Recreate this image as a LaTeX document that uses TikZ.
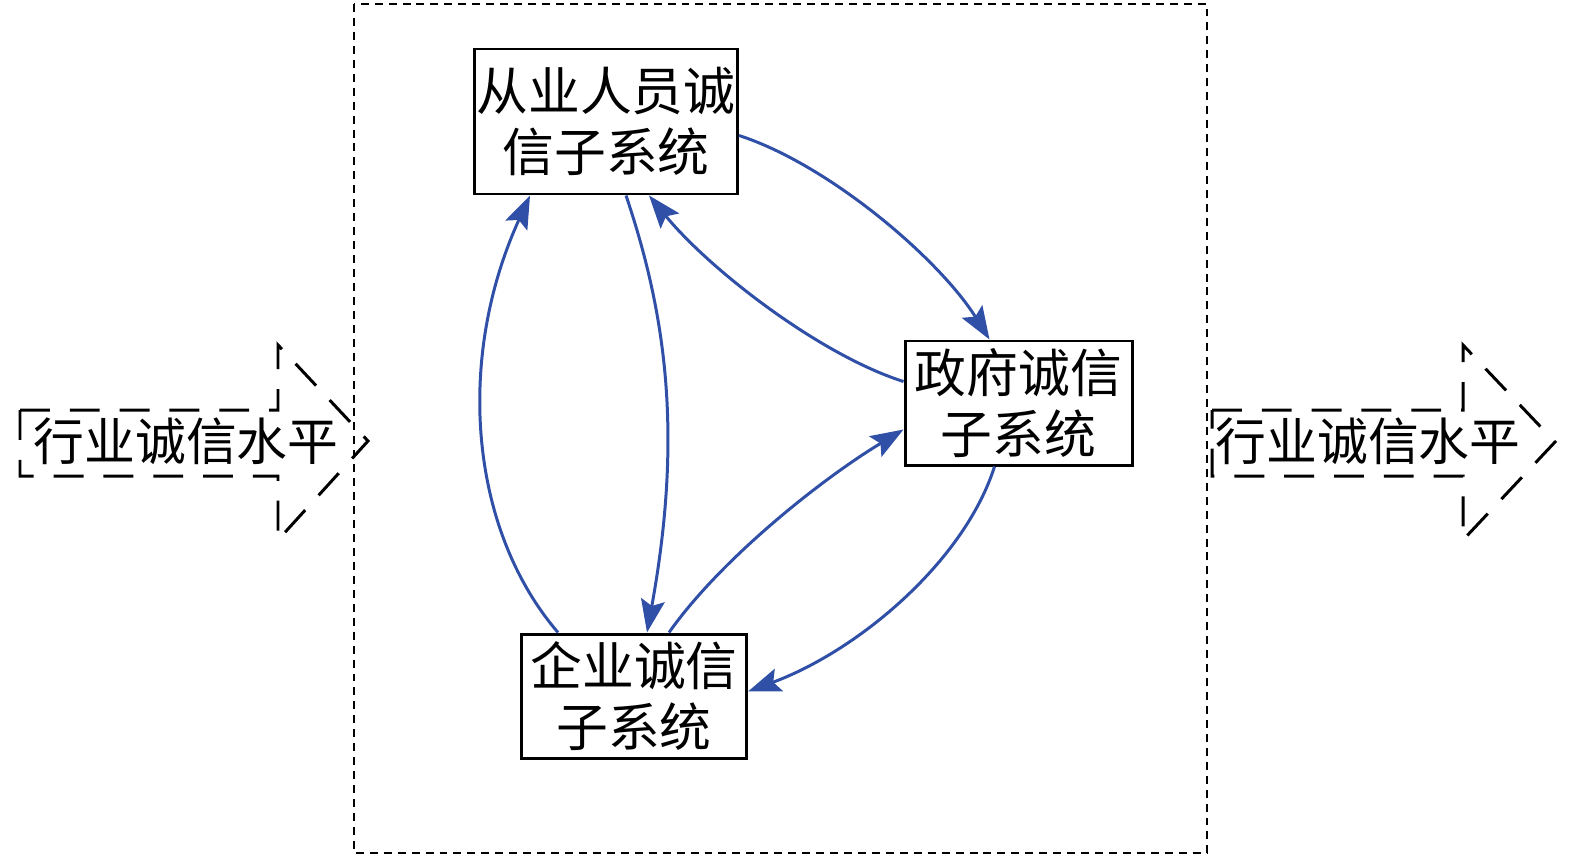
\documentclass[tikz,border=0pt]{standalone}
\usepackage{fontspec}
\newfontfamily\cjk{Noto Sans CJK SC}
\usetikzlibrary{arrows.meta,calc}
\definecolor{linkblue}{RGB}{48,80,168}
\begin{document}
\begin{tikzpicture}[x=1bp,y=-1bp,
  sysbox/.style={draw=black,line width=3pt,inner sep=0pt,align=center,
    font=\cjk\fontsize{52}{61}\selectfont},
  link/.style={draw=linkblue,line width=3pt,-{Stealth[length=33pt,width=24pt,inset=6pt]}},
  bigarrow/.style={draw=black,line width=3pt,dash pattern=on 30pt off 20pt},
  lvl/.style={font=\cjk\fontsize{51}{58}\selectfont,inner sep=0pt}]
\useasboundingbox (0,0) rectangle (1575,862);
% outer dashed frame
\draw[line width=2pt,dash pattern=on 8pt off 6pt] (354,4) rectangle (1207,853);
% subsystem boxes
\node[sysbox,minimum width=263bp,minimum height=145bp] (b1) at (606,121.5) {从业人员诚\\信子系统};
\node[sysbox,minimum width=227bp,minimum height=124bp] (b2) at (1018.5,403) {政府诚信\\子系统};
\node[sysbox,minimum width=225bp,minimum height=124bp] (b3) at (634,696) {企业诚信\\子系统};
% big arrows
\draw[bigarrow] (20,410) -- (278,410) -- (278,345) -- (368,441) -- (278,540) -- (278,476) -- (20,476) -- cycle;
\node[lvl] (lin) at (186,441) {行业诚信水平};
\draw[bigarrow] (1212,410) -- (1463,410) -- (1463,345) -- (1555,442) -- (1463,540) -- (1463,476) -- (1212,476) -- cycle;
\node[lvl] (lout) at (1368,441) {行业诚信水平};
% links
\draw[link] ($(b1.north east)+(0,88)$) .. controls (830,165) and (940,260) .. ($(b2.north west)+(86,0)$);
\draw[link] ($(b2.north west)+(0,42)$) .. controls (820,355) and (710,270) .. ($(b1.south west)+(176,0)$);
\draw[link] ($(b1.south west)+(153,0)$) .. controls (668,320) and (682,440) .. ($(b3.north west)+(127,0)$);
\draw[link] ($(b3.north west)+(38,0)$) .. controls (470,530) and (455,360) .. ($(b1.south west)+(57,0)$);
\draw[link] ($(b3.north west)+(149,0)$) .. controls (720,560) and (820,480) .. ($(b2.north west)+(0,90)$);
\draw[link] ($(b2.south west)+(91,0)$) .. controls (965,560) and (860,650) .. ($(b3.north east)+(0,59)$);
\end{tikzpicture}
\end{document}
